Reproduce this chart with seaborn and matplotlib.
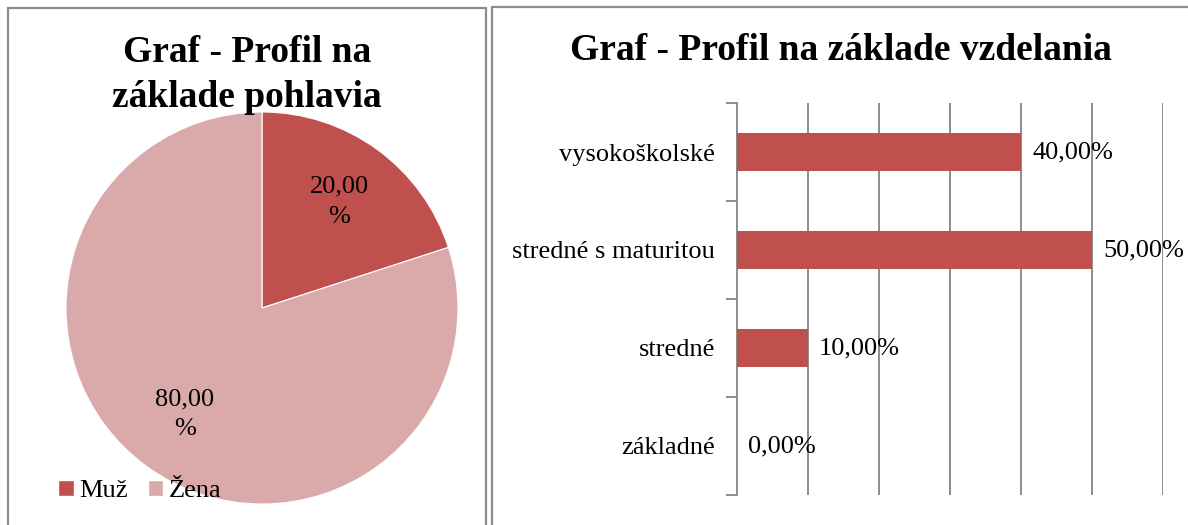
"""Dva grafy: profil respondentov podľa pohlavia a vzdelania."""
import matplotlib

matplotlib.use("Agg")
import matplotlib.pyplot as plt
import pandas as pd
import seaborn as sns
from matplotlib.patches import Patch, Rectangle
from matplotlib.ticker import FixedLocator

# pohlavie
pohlavie = ["Muž", "Žena"]
pohlavie_podiel = [20.0, 80.0]
pohlavie_farby = ["#C0504D", "#DAA9A9"]

# vzdelanie
vzdelanie = ["vysokoškolské", "stredné s maturitou", "stredné", "základné"]
vzdelanie_podiel = [0.40, 0.50, 0.10, 0.00]
stlpec_farba = "#C0504D"
x_ticky = [0.0, 0.1, 0.2, 0.3, 0.4, 0.5, 0.6]

W, H = 1188, 525
SIVA = "#8c8c8c"
FS = 19


def fmt_sk(v, sep=""):
    return f"{v:.2f}".replace(".", ",") + sep + "%"


def main() -> None:
    sns.set_style("white")
    plt.rcParams["font.family"] = ["Liberation Serif", "DejaVu Serif"]
    plt.rcParams["text.color"] = "black"
    plt.rcParams["ytick.labelcolor"] = "black"

    fig = plt.figure(figsize=(W / 100, H / 100), dpi=100)

    # ramčeky okolo grafov
    fig.add_artist(Rectangle((8 / W, -0.1), 478 / W, (H - 8) / H + 0.1,
                             transform=fig.transFigure, fill=False,
                             edgecolor=SIVA, lw=1.6))
    fig.add_artist(Rectangle((492 / W, -0.1), 1.0, (H - 7) / H + 0.1,
                             transform=fig.transFigure, fill=False,
                             edgecolor=SIVA, lw=1.6))

    # --- koláč ---
    r = 196
    ax1 = fig.add_axes([(262 - r) / W, (H - 308 - r) / H, 2 * r / W, 2 * r / H])
    ax1.pie(
        pohlavie_podiel,
        colors=pohlavie_farby,
        startangle=90,
        counterclock=False,
        autopct=lambda p: fmt_sk(p, "\n"),
        pctdistance=0.67,
        wedgeprops={"edgecolor": "white", "linewidth": 0.8},
        textprops={"fontsize": FS, "color": "black", "linespacing": 1.5},
    )
    ax1.set_xlim(-1, 1)
    ax1.set_ylim(-1, 1)
    fig.text(247 / W, 1 - 75 / H, "Graf - Profil na\nzáklade pohlavia",
             ha="center", va="center", fontsize=27, fontweight="bold",
             linespacing=1.4)
    handles = [Patch(facecolor=c, label=l) for c, l in zip(pohlavie_farby, pohlavie)]
    fig.legend(handles=handles, loc="center left",
               bbox_to_anchor=(58 / W, 1 - 491 / H), ncol=2, frameon=False,
               fontsize=FS, handlelength=0.6, handleheight=0.6,
               handletextpad=0.2, columnspacing=0.75, borderpad=0,
               borderaxespad=0)

    # --- stĺpce ---
    ax2 = fig.add_axes([737 / W, (H - 495) / H, (1163 - 737) / W, 392 / H])
    df = pd.DataFrame({"vzdelanie": vzdelanie, "podiel": vzdelanie_podiel})
    sns.barplot(data=df, x="podiel", y="vzdelanie", order=vzdelanie,
                color=stlpec_farba, saturation=1, width=0.38, ax=ax2,
                orient="h", linewidth=0, zorder=3)
    ax2.bar_label(ax2.containers[0], labels=[fmt_sk(v * 100) for v in vzdelanie_podiel],
                  padding=8, fontsize=FS, color="black")
    ax2.set_xlim(x_ticky[0], x_ticky[-1])
    ax2.set_ylim(len(vzdelanie) - 0.5, -0.5)
    ax2.set_xticks(x_ticky)
    ax2.set_xticklabels([])
    ax2.tick_params(axis="x", length=0)
    ax2.grid(axis="x", color=SIVA, lw=1.4, zorder=0)
    ax2.grid(axis="y", visible=False)
    ax2.set_axisbelow(True)

    ax2.yaxis.set_major_locator(FixedLocator([i - 0.5 for i in range(len(vzdelanie) + 1)]))
    ax2.yaxis.set_minor_locator(FixedLocator(range(len(vzdelanie))))
    ax2.set_yticklabels([], minor=False)
    ax2.set_yticklabels(vzdelanie, minor=True, fontsize=FS, color="black")
    ax2.tick_params(axis="y", which="major", length=8, width=1.4, color=SIVA, left=True)
    ax2.tick_params(axis="y", which="minor", length=0, pad=16)
    ax2.set_xlabel("")
    ax2.set_ylabel("")
    for s in ["top", "right", "bottom"]:
        ax2.spines[s].set_visible(False)
    ax2.spines["left"].set_color(SIVA)
    ax2.spines["left"].set_linewidth(1.4)

    fig.text(841 / W, 1 - 50 / H, "Graf - Profil na základe vzdelania",
             ha="center", va="center", fontsize=27, fontweight="bold")

    fig.savefig("out.png", dpi=100)
    plt.close(fig)


if __name__ == "__main__":
    main()
